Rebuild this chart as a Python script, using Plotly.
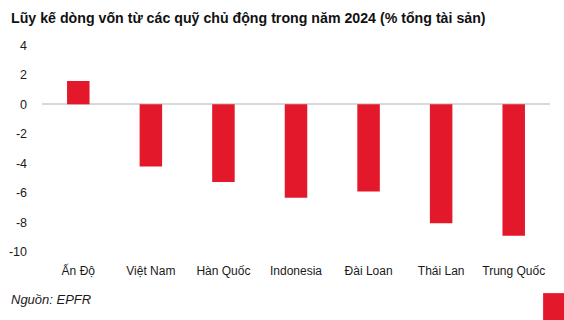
import plotly.graph_objects as go

categories = ["Ấn Độ", "Việt Nam", "Hàn Quốc", "Indonesia", "Đài Loan", "Thái Lan", "Trung Quốc"]
values = [1.58, -4.23, -5.27, -6.35, -5.92, -8.08, -8.92]
y_ticks = [4, 2, 0, -2, -4, -6, -8, -10]
y_tick_labels = [str(v) for v in y_ticks]

FONT = "Liberation Sans, Arial, sans-serif"
RED = "#E3182B"

fig = go.Figure()
fig.add_trace(go.Bar(x=categories, y=values, marker_color=RED, width=0.31, marker_line_width=0))

W, H = 564, 320
left, right = 41.5, 550.2
top, bottom = 37.6, 259.1

def px_x(x):
    return (x - left) / (right - left)

def px_y(y):
    return (bottom - y) / (bottom - top)

fig.update_layout(
    width=W, height=H,
    margin=dict(l=left, r=W - right, t=top, b=H - bottom, pad=0, autoexpand=False),
    paper_bgcolor="white", plot_bgcolor="white",
    showlegend=False,
    font=dict(family=FONT, size=12, color="#1a1a1a"),
)
fig.update_yaxes(
    range=[-10.5, 4.5], tickvals=y_ticks, ticktext=y_tick_labels, showgrid=False, zeroline=True,
    zerolinecolor="#d9d9d9", zerolinewidth=1.5, showline=False, automargin=False,
    ticklabelstandoff=14, tickfont=dict(family=FONT, size=12.5, color="#1a1a1a"),
)
fig.update_xaxes(
    showgrid=False, showline=False, ticks="", ticklabelstandoff=3, automargin=False,
    tickfont=dict(family=FONT, size=12, color="#1a1a1a"),
)
fig.add_annotation(
    text="<b>Lũy kế dòng vốn từ các quỹ chủ động trong năm 2024 (% tổng tài sản)</b>",
    xref="paper", yref="paper", x=px_x(9), y=px_y(18),
    xanchor="left", yanchor="middle", showarrow=False, borderpad=0,
    font=dict(family=FONT, size=14.2, color="#111111"),
)
fig.add_annotation(
    text="<i>Nguồn: EPFR</i>",
    xref="paper", yref="paper", x=px_x(9), y=px_y(300),
    xanchor="left", yanchor="middle", showarrow=False, borderpad=0,
    font=dict(family=FONT, size=13, color="#1a1a1a"),
)
fig.add_shape(
    type="rect", xref="paper", yref="paper",
    x0=px_x(543.3), x1=px_x(565),
    y0=px_y(321), y1=px_y(293.3),
    fillcolor=RED, line_width=0, layer="above",
)
fig.write_html("out.html")
